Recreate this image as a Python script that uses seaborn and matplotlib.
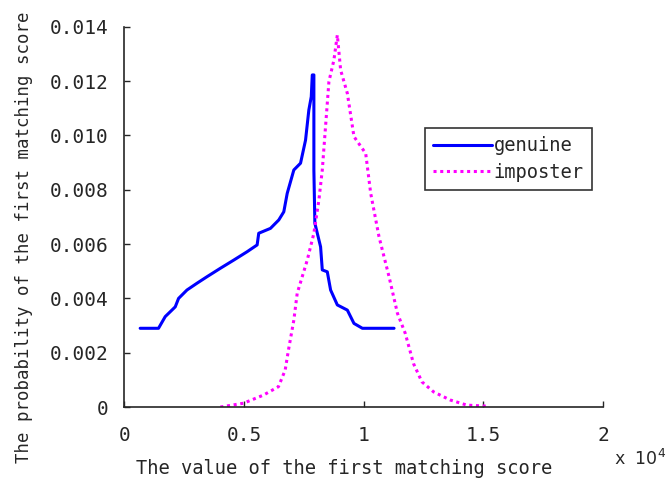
import numpy as np
import pandas as pd
import seaborn as sns
import matplotlib
matplotlib.use("Agg")
import matplotlib.pyplot as plt

# values (x in raw score units, shown as x 10^4)
genuine_x = [669, 1435, 1715, 1925, 2134, 2272, 2623, 3042, 3460, 4017, 4573, 5134,
             5552, 5619, 6109, 6456, 6665, 6808, 7084, 7364, 7573, 7711, 7812, 7854,
             7921, 7921, 7962, 8201, 8272, 8481, 8619, 8900, 9318, 9594, 9946, 11268]
genuine_y = [0.0029, 0.0029, 0.00333, 0.00351, 0.00369, 0.0040, 0.00431, 0.00456,
             0.0048, 0.00511, 0.00541, 0.00572, 0.00597, 0.0064, 0.00658, 0.00689,
             0.00719, 0.00787, 0.00873, 0.00898, 0.00983, 0.01094, 0.01143, 0.01223,
             0.01223, 0.00873, 0.00677, 0.0059, 0.00505, 0.00498, 0.00431, 0.00376,
             0.00357, 0.00308, 0.0029, 0.0029]

imposter_x = [4017, 4983, 5816, 6443, 6722, 6860, 7084, 7225, 7644, 7921, 8130, 8272,
              8548, 8757, 8900, 9038, 9318, 9594, 10084, 10293, 10640, 11059, 11410,
              11733, 12080, 12430, 12915, 13610, 14310, 15200]
imposter_y = [0.0, 0.00014, 0.00044, 0.00075, 0.00136, 0.0021, 0.0032, 0.00419,
              0.00541, 0.0064, 0.00762, 0.00873, 0.01198, 0.01278, 0.0137, 0.01241,
              0.01155, 0.00996, 0.00934, 0.00787, 0.00627, 0.0048, 0.00345, 0.00272,
              0.0016, 0.00093, 0.00056, 0.00026, 0.00007, 0.00003]

x_ticks = [0, 5000, 10000, 15000, 20000]
x_tick_labels = ["0", "0.5", "1", "1.5", "2"]
y_ticks = [0, 0.002, 0.004, 0.006, 0.008, 0.010, 0.012, 0.014]
y_tick_labels = ["0", "0.002", "0.004", "0.006", "0.008", "0.010", "0.012", "0.014"]

sns.set_style("ticks")
plt.rcParams["font.family"] = ["DejaVu Sans Mono", "DejaVu Sans"]

fig = plt.figure(figsize=(6.71, 4.8), dpi=100)
ax = fig.add_axes([0.185, 0.152, 0.714, 0.792])

sns.lineplot(x=genuine_x, y=genuine_y, sort=False, estimator=None, ax=ax,
             color="#0000ff", linewidth=2.2, label="genuine")
sns.lineplot(x=imposter_x, y=imposter_y, sort=False, estimator=None, ax=ax,
             color="#ff00ff", linewidth=2.2, linestyle=(0, (1, 1.2)), label="imposter")

ax.set_xlim(0, 20000)
ax.set_ylim(0, 0.014)
ax.set_xticks(x_ticks)
ax.set_xticklabels(x_tick_labels)
ax.set_yticks(y_ticks)
ax.set_yticklabels(y_tick_labels)
ax.tick_params(direction="in", length=4, labelsize=14, width=1)
ax.tick_params(axis="y", pad=11)
ax.tick_params(axis="x", pad=14)
sns.despine(ax=ax)
for side in ["left", "bottom"]:
    ax.spines[side].set_linewidth(1.2)

ax.set_xlabel("The value of the first matching score", fontsize=13.5)
ax.xaxis.set_label_coords(0.46, -0.137)
ax.set_ylabel("The probability of the first matching score", fontsize=12.5)
ax.yaxis.set_label_coords(-0.19, 0.447)
fig.text(0.915, 0.022, r"x $10^4$", fontsize=12.5, ha="left", va="bottom")

leg = ax.legend(loc="upper left", bbox_to_anchor=(0.628, 0.734), fontsize=13.5,
                frameon=True, fancybox=False, handlelength=3.1, borderpad=0.45,
                labelspacing=0.4, handletextpad=0.1, borderaxespad=0)
leg.get_frame().set_edgecolor("black")
leg.get_frame().set_linewidth(1.2)

fig.savefig("out.png", dpi=100)
